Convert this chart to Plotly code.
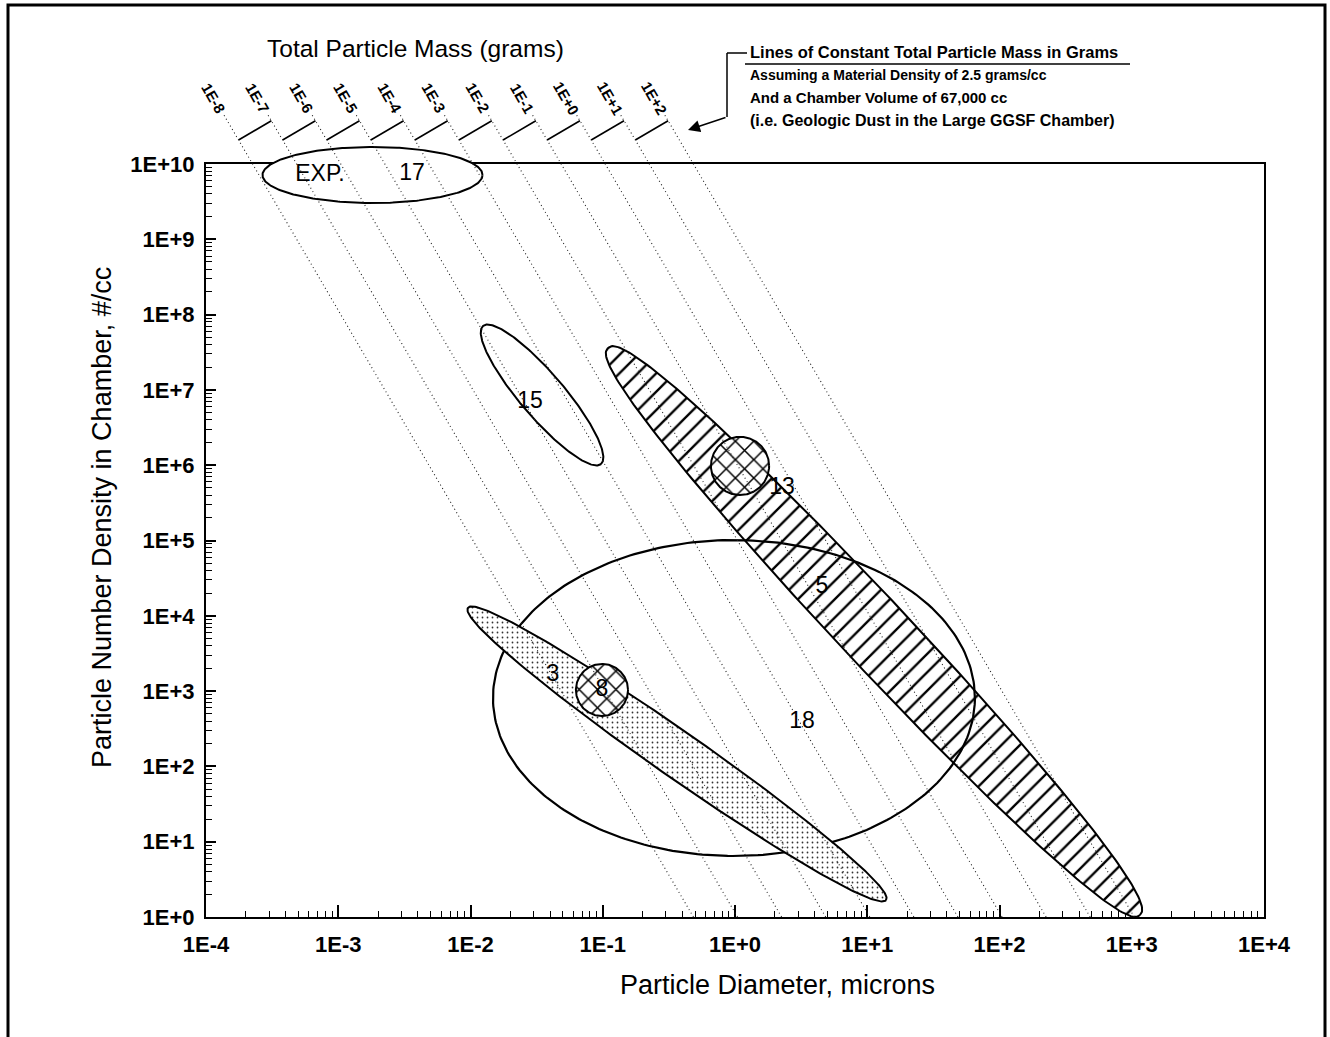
import numpy as np
import plotly.graph_objects as go

# ---------------- data ----------------
x_tick_exps = [-4, -3, -2, -1, 0, 1, 2, 3, 4]
x_tick_labels = ["1E-4", "1E-3", "1E-2", "1E-1", "1E+0", "1E+1", "1E+2", "1E+3", "1E+4"]
y_tick_exps = [0, 1, 2, 3, 4, 5, 6, 7, 8, 9, 10]
y_tick_labels = ["1E+0", "1E+1", "1E+2", "1E+3", "1E+4", "1E+5", "1E+6",
                 "1E+7", "1E+8", "1E+9", "1E+10"]

# lines of constant total particle mass (grams)
mass_exps = [-8, -7, -6, -5, -4, -3, -2, -1, 0, 1, 2]
mass_labels = ["1E-8", "1E-7", "1E-6", "1E-5", "1E-4", "1E-3", "1E-2",
               "1E-1", "1E+0", "1E+1", "1E+2"]
density_g_cc = 2.5
chamber_volume_cc = 67000

# elongated regions: both tips as (log10 diameter, log10 number density), half width in decades
elong_names = ["15", "5", "3"]
elong_tip1_logd = [-1.905, -0.960, -2.019]
elong_tip1_logn = [7.849, 7.556, 4.104]
elong_tip2_logd = [-1.013, 3.062, 1.142]
elong_tip2_logn = [6.016, 0.027, 0.226]
elong_halfwidth = [0.166, 0.26, 0.174]

# circular regions (cross hatched)
circle_names = ["13", "8"]
circle_logd = [0.038, -1.006]
circle_logn = [5.99, 3.015]
circle_radius = [0.22, 0.197]

# axis aligned ovals
oval_names = ["17", "18"]
oval_logd = [-2.741, -0.008]
oval_logn = [9.854, 2.908]
oval_semi_d = [0.832, 1.822]
oval_semi_n = [0.372, 2.098]

# region labels
region_text = ["EXP.", "17", "15", "13", "5", "3", "8", "18"]
region_text_logd = [-3.138, -2.442, -1.550, 0.355, 0.658, -1.376, -1.006, 0.507]
region_text_logn = [9.854, 9.867, 6.839, 5.697, 4.382, 3.214, 3.015, 2.590]

# ---------------- layout geometry ----------------
W, H = 1330, 1037
PL, PR, PT, PB = 206, 1264, 164, 917
XD = (PR - PL) / 8.0
YD = (PB - PT) / 10.0
K = YD / XD
FONT = "Liberation Sans"
ELONG_FULLNESS = [1.0, 0.85, 0.95]   # outline shape exponent (style)

x2_range = [-4 - PL / XD, 4 + (W - PR) / XD]
y2_range = [0 - (H - PB) / YD, 10 + PT / YD]


def logn_at_px(py):
    return 10 + (PT - py) / YD


fig = go.Figure()
# dummy trace so the main axes render
fig.add_trace(go.Scatter(x=[1e-4], y=[1], mode="markers", marker=dict(opacity=0),
                         showlegend=False, hoverinfo="skip", xaxis="x", yaxis="y"))

t = np.linspace(0, 2 * np.pi, 300)


def elong_pts(i):
    u1, v1 = elong_tip1_logd[i], elong_tip1_logn[i] * K
    u2, v2 = elong_tip2_logd[i], elong_tip2_logn[i] * K
    cu, cv = (u1 + u2) / 2, (v1 + v2) / 2
    L = np.hypot(u2 - u1, v2 - v1)
    e1 = np.array([u2 - u1, v2 - v1]) / L
    e2 = np.array([-e1[1], e1[0]])
    a, b = L / 2, elong_halfwidth[i]
    p = ELONG_FULLNESS[i]
    st = np.sign(np.sin(t)) * np.abs(np.sin(t)) ** p
    u = cu + a * np.cos(t) * e1[0] + b * st * e2[0]
    v = cv + a * np.cos(t) * e1[1] + b * st * e2[1]
    return 10 ** u, 10 ** (v / K)


def circle_pts(i):
    u = circle_logd[i] + circle_radius[i] * np.cos(t)
    v = circle_logn[i] + circle_radius[i] / K * np.sin(t)
    return 10 ** u, 10 ** v


def oval_pts(i):
    u = oval_logd[i] + oval_semi_d[i] * np.cos(t)
    v = oval_logn[i] + oval_semi_n[i] * np.sin(t)
    return 10 ** u, 10 ** v


def add_region(xs, ys, width=2, pattern=None, fillcolor=None):
    kw = dict(x=xs, y=ys, mode="lines", line=dict(color="black", width=width),
              showlegend=False, hoverinfo="skip", xaxis="x2", yaxis="y2")
    if pattern is not None:
        kw.update(fill="toself", fillcolor="white", fillpattern=pattern)
    elif fillcolor is not None:
        kw.update(fill="toself", fillcolor=fillcolor)
    fig.add_trace(go.Scatter(**kw))


# region 5 (hatched)
xs, ys = elong_pts(1)
add_region(xs, ys, 2, dict(shape="/", size=13, solidity=0.18, fgcolor="black",
                           bgcolor="white", fillmode="replace"))
# region 18 (outline)
xs, ys = oval_pts(1)
add_region(xs, ys, 2.2)
# region 3 (stippled)
xs, ys = elong_pts(2)
add_region(xs, ys, 2, dict(shape=".", size=5, solidity=0.1, fgcolor="#333",
                           bgcolor="white", fillmode="replace"))
# regions 13, 8 (cross hatched)
for i in range(2):
    xs, ys = circle_pts(i)
    add_region(xs, ys, 2, dict(shape="x", size=13, solidity=0.22, fgcolor="black",
                               bgcolor="white", fillmode="replace"))
# region 15 (outline)
xs, ys = elong_pts(0)
add_region(xs, ys, 2)
# region 17 (white filled oval)
xs, ys = oval_pts(0)
add_region(xs, ys, 2, fillcolor="white")

# lines of constant mass
logC = np.log10(chamber_volume_cc * density_g_cc * np.pi / 6 * 1e-12)


def line_logd(m_exp, logn):
    return (m_exp - logC - logn) / 3.0


n_top = logn_at_px(113)
for m in mass_exps:
    ln = np.array([0.0, n_top])
    ld = line_logd(m, ln)
    fig.add_trace(go.Scatter(x=10 ** ld, y=10 ** ln, mode="lines",
                             line=dict(color="#222", width=1.1, dash="1px,3px"),
                             showlegend=False, hoverinfo="skip", xaxis="x2", yaxis="y2"))

# sawtooth perpendicular ticks between adjacent mass lines
n_s = logn_at_px(140)
nu, nv = K, 1.0 / 3.0
nn = np.hypot(nu, nv)
nu, nv = nu / nn, nv / nn
for i in range(len(mass_exps) - 1):
    u_s = line_logd(mass_exps[i], n_s)
    v_s = n_s * K
    m2 = mass_exps[i + 1]
    s = ((m2 - logC - v_s / K) / 3.0 - u_s) / (nu + nv / (3 * K))
    u_e, v_e = u_s + s * nu, v_s + s * nv
    fig.add_trace(go.Scatter(x=[10 ** u_s, 10 ** u_e], y=[10 ** n_s, 10 ** (v_e / K)],
                             mode="lines", line=dict(color="black", width=1.6),
                             showlegend=False, hoverinfo="skip", xaxis="x2", yaxis="y2"))

# region labels
fig.add_trace(go.Scatter(x=10 ** np.array(region_text_logd), y=10 ** np.array(region_text_logn),
                         mode="text", text=region_text,
                         textfont=dict(family=FONT, size=23, color="black"),
                         showlegend=False, hoverinfo="skip", xaxis="x2", yaxis="y2"))

annotations = []
n_lab = logn_at_px(98)
ang = np.degrees(np.arctan(3 * YD / XD))
for m, lab in zip(mass_exps, mass_labels):
    annotations.append(dict(x=line_logd(m, n_lab), y=n_lab, xref="x2", yref="y2",
                            xanchor="center", yanchor="middle",
                            text=lab, showarrow=False, textangle=ang,
                            font=dict(family=FONT, size=15, color="black", weight="bold")))


def px(x):
    return x / W


def py(y):
    return 1 - y / H


def txt(x, y, s, size, bold=False, anchor="center", angle=0):
    f = dict(family=FONT, size=size, color="black")
    if bold:
        f["weight"] = "bold"
    return dict(x=px(x), y=py(y), xref="paper", yref="paper", xanchor=anchor, yanchor="middle",
                text=s, showarrow=False, textangle=angle, font=f)


annotations += [
    txt(415, 48, "Total Particle Mass (grams)", 24.5),
    txt(777, 985, "Particle Diameter, microns", 27),
    txt(102, 518, "Particle Number Density in Chamber, #/cc", 27, angle=-90),
    txt(748, 52, "Lines of Constant Total Particle Mass in Grams", 16.5, True, "left"),
    txt(748, 75, f"Assuming a Material Density of {density_g_cc} grams/cc", 14, True, "left"),
    txt(748, 98, f"And a Chamber Volume of {chamber_volume_cc:,} cc", 15, True, "left"),
    txt(748, 121, "(i.e. Geologic Dust in the Large GGSF Chamber)", 16, True, "left"),
    dict(x=px(688), y=py(130), xref="paper", yref="paper", text="", showarrow=True,
         ax=727 - 688, ay=117 - 130, arrowhead=2, arrowsize=1.6, arrowwidth=1.5,
         arrowcolor="black"),
]

shapes = [
    dict(type="line", xref="paper", yref="paper", x0=px(745), x1=px(1130), y0=py(64), y1=py(64),
         line=dict(color="black", width=1.5)),
    dict(type="line", xref="paper", yref="paper", x0=px(727), x1=px(747), y0=py(53), y1=py(53),
         line=dict(color="black", width=1.5)),
    dict(type="line", xref="paper", yref="paper", x0=px(727), x1=px(727), y0=py(53), y1=py(117),
         line=dict(color="black", width=1.5)),
    dict(type="rect", xref="paper", yref="paper", x0=px(8), x1=px(1325), y0=-0.05, y1=py(5),
         line=dict(color="black", width=3)),
]

x_minor = [m * 10.0 ** e for e in x_tick_exps[:-1] for m in range(2, 10)]
y_minor = [m * 10.0 ** e for e in y_tick_exps[:-1] for m in range(2, 10)]

fig.update_layout(
    width=W, height=H, margin=dict(l=0, r=0, t=0, b=0, pad=0, autoexpand=False),
    paper_bgcolor="white", plot_bgcolor="rgba(0,0,0,0)",
    showlegend=False,
    xaxis=dict(type="log", range=[-4, 4], domain=[PL / W, PR / W], anchor="y",
               automargin=False,
               tickmode="array", tickvals=[10.0 ** e for e in x_tick_exps], ticktext=x_tick_labels,
               ticks="inside", ticklen=12, tickwidth=1.5, tickcolor="black",
               minor=dict(tickvals=x_minor, ticks="inside", ticklen=6, tickwidth=1.2, tickcolor="black"),
               showline=True, linewidth=2, linecolor="black", mirror=True, showgrid=False,
               zeroline=False, ticklabelstandoff=7,
               tickfont=dict(family=FONT, size=22, color="black", weight="bold")),
    yaxis=dict(type="log", range=[0, 10], domain=[1 - PB / H, 1 - PT / H], anchor="x",
               automargin=False,
               tickmode="array", tickvals=[10.0 ** e for e in y_tick_exps], ticktext=y_tick_labels,
               ticks="inside", ticklen=10, tickwidth=1.5, tickcolor="black",
               minor=dict(tickvals=y_minor, ticks="inside", ticklen=6, tickwidth=1.2, tickcolor="black"),
               showline=True, linewidth=2, linecolor="black", mirror=True, showgrid=False,
               zeroline=False, ticklabelstandoff=5,
               tickfont=dict(family=FONT, size=22, color="black", weight="bold")),
    xaxis2=dict(type="log", range=x2_range, domain=[0, 1], anchor="y2", visible=False,
                automargin=False),
    yaxis2=dict(type="log", range=y2_range, domain=[0, 1], anchor="x2", visible=False,
                automargin=False),
    annotations=annotations,
    shapes=shapes,
)

fig.write_html("out.html")
